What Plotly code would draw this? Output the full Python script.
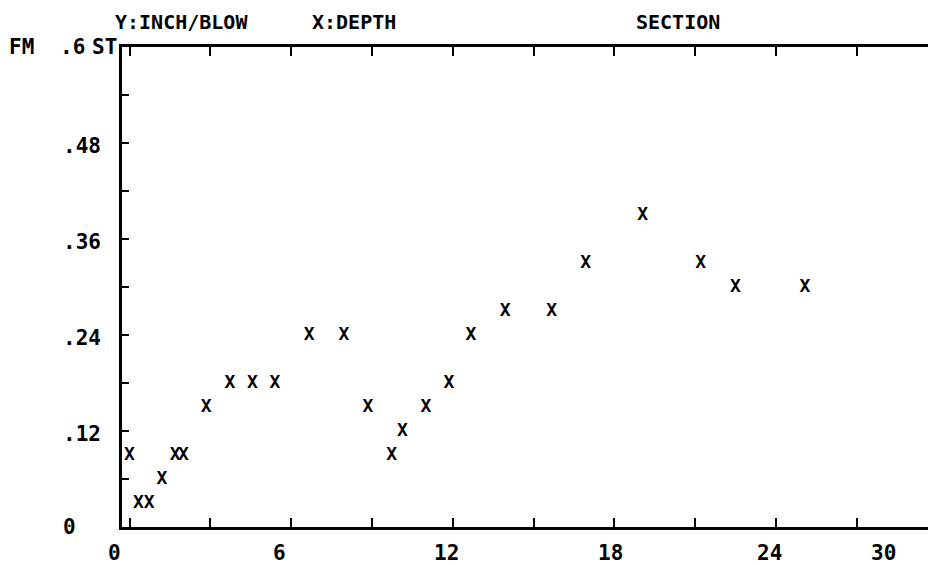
import plotly.graph_objects as go

# Penetration record: depth (x) against inches per blow (y)
depth = [0.0, 0.33, 0.73, 1.2, 1.69, 2.0, 2.84, 3.73, 4.56, 5.40, 6.67, 7.96,
         8.85, 9.73, 10.13, 11.0, 11.86, 12.67, 13.94, 15.67, 16.93, 19.05,
         21.2, 22.49, 25.07]
inch_per_blow = [0.09, 0.03, 0.03, 0.06, 0.09, 0.09, 0.15, 0.18, 0.18, 0.18,
                 0.24, 0.24, 0.15, 0.09, 0.12, 0.15, 0.18, 0.24, 0.27, 0.27,
                 0.33, 0.39, 0.33, 0.30, 0.30]

# Axis labelling
x_tick_labels = ["0", "6", "12", "18", "24", "30"]
x_label_at = [-0.54, 5.55, 11.75, 17.84, 23.77, 28.0]
y_tick_values = [0, 0.12, 0.24, 0.36, 0.48]
y_tick_labels = ["0", ".12", ".24", ".36", ".48"]

FONT = "DejaVu Sans Mono, Liberation Mono, monospace"
INK = "#000000"

X_RANGE = [-0.28, 29.64]
Y_RANGE = [0, 0.6]

fig = go.Figure()
fig.add_trace(go.Scatter(
    x=depth, y=inch_per_blow, mode="text",
    text=["X"] * len(depth),
    textposition="middle center",
    textfont=dict(family=FONT, size=18, color=INK, weight="bold"),
    cliponaxis=False, showlegend=False, hoverinfo="x+y",
))

W, H = 928, 565
L, R, T, B = 122, 0, 47, 38
plot_w = W - L - R
plot_h = H - T - B


def x_to_paper(v):
    return (v - X_RANGE[0]) / (X_RANGE[1] - X_RANGE[0])


label_font = dict(family=FONT, size=21, color=INK, weight="bold")

annotations = []
for lab, xv in zip(x_tick_labels, x_label_at):
    annotations.append(dict(
        x=x_to_paper(xv), y=-26 / plot_h, xref="paper", yref="paper", text=lab,
        showarrow=False, xanchor="center", yanchor="middle", font=label_font))

for val, lab in zip(y_tick_values, y_tick_labels):
    annotations.append(dict(
        x=(61 - L) / plot_w, y=val, xref="paper", yref="y", text=lab,
        showarrow=False, xanchor="left", yanchor="middle",
        yshift=-3 if val else 0, font=label_font))

# top-left corner: units and full-scale value
for txt, px in [("FM", 7), (".6", 58), ("ST", 90)]:
    annotations.append(dict(
        x=(px - L) / plot_w, y=0.6, xref="paper", yref="y", text=txt,
        showarrow=False, xanchor="left", yanchor="middle", font=label_font))

# header line
for txt, px in [("Y:INCH/BLOW", 113), ("X:DEPTH", 310), ("SECTION", 634)]:
    annotations.append(dict(
        x=(px - L) / plot_w, y=1 + (T - 22) / plot_h, xref="paper", yref="paper",
        text=txt, showarrow=False, xanchor="left", yanchor="middle",
        font=dict(family=FONT, size=20, color=INK, weight="bold")))

fig.update_layout(
    width=W, height=H,
    margin=dict(l=L, r=R, t=T, b=B, pad=0),
    paper_bgcolor="white", plot_bgcolor="white",
    annotations=annotations,
    xaxis=dict(
        range=X_RANGE, showgrid=False, zeroline=False,
        showline=True, linecolor=INK, linewidth=3, mirror="ticks",
        ticks="inside", tick0=0, dtick=3, ticklen=9, tickwidth=2,
        tickcolor=INK, showticklabels=False,
    ),
    yaxis=dict(
        range=Y_RANGE, showgrid=False, zeroline=False,
        showline=True, linecolor=INK, linewidth=3, mirror=False,
        ticks="inside", tick0=0, dtick=0.06, ticklen=7, tickwidth=2,
        tickcolor=INK, showticklabels=False,
    ),
)

fig.write_html("out.html")
